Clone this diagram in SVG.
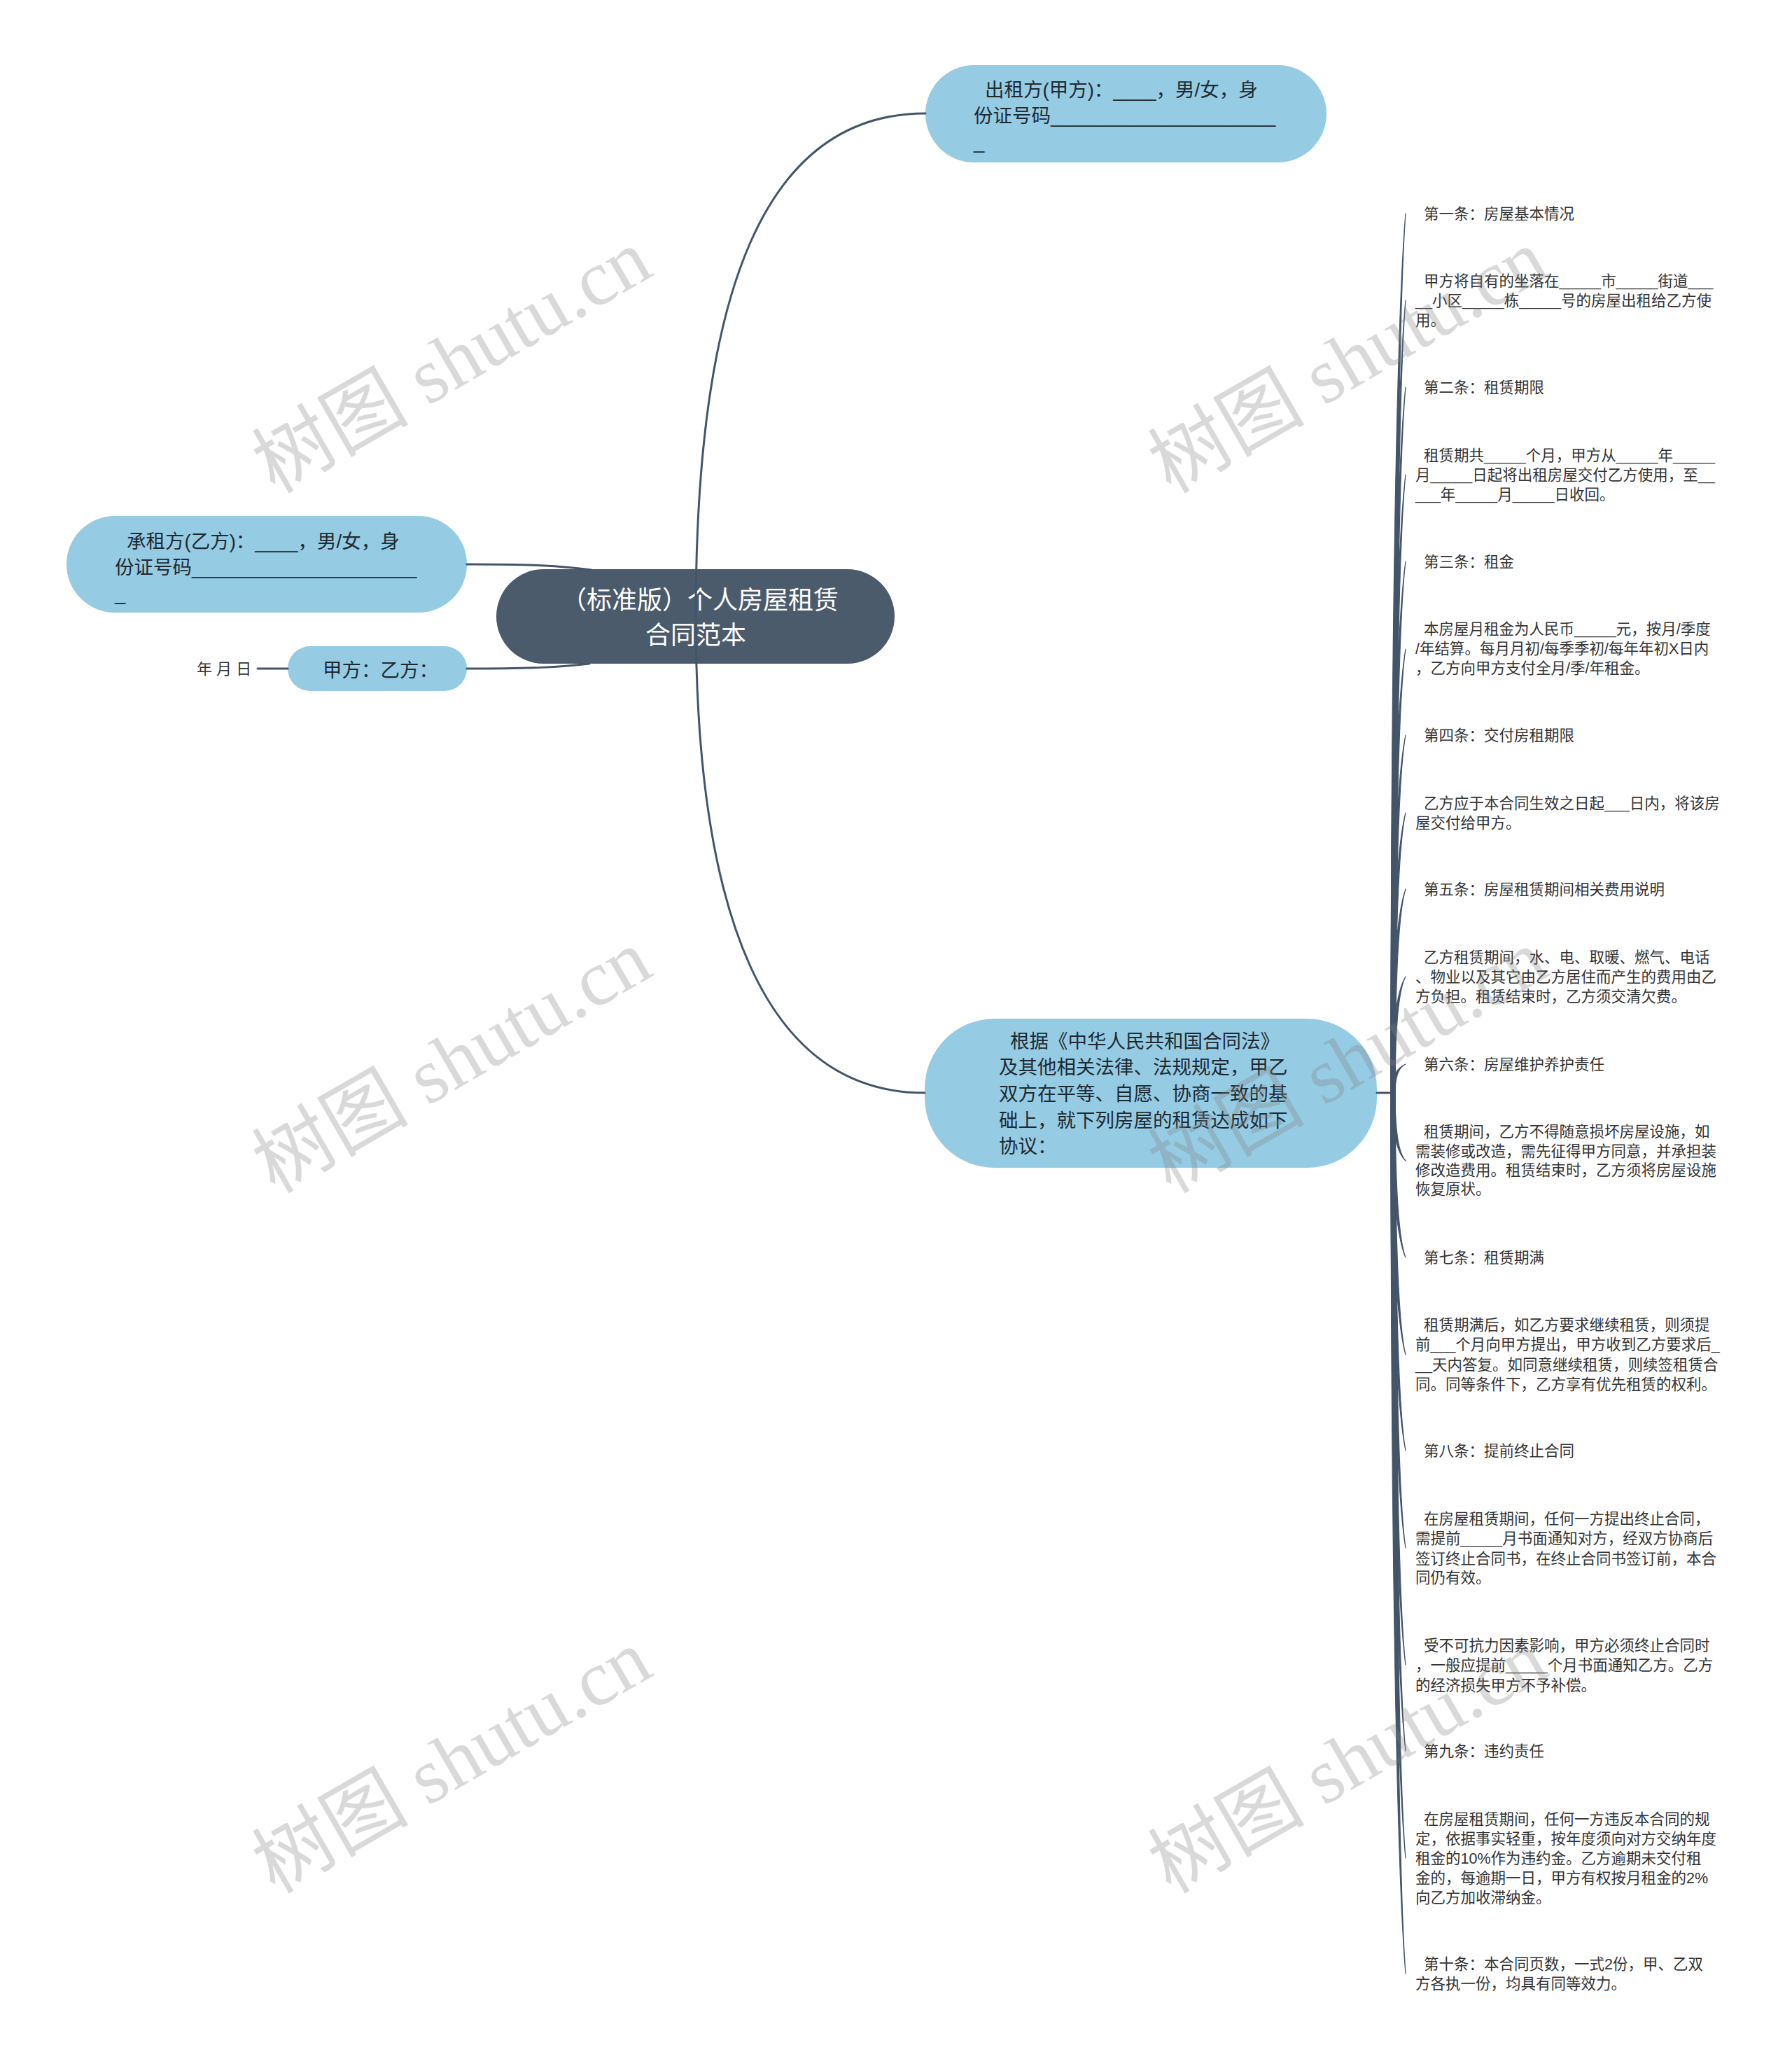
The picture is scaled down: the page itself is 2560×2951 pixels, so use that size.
<svg xmlns="http://www.w3.org/2000/svg" width="2560" height="2951" viewBox="0 0 2560 2951">
<style>
.ln{fill:none;stroke:#44556a;stroke-width:3;stroke-linecap:round}
.br{fill:#44556a;stroke:#44556a;stroke-width:1.2;stroke-linejoin:round}
.lt{font-family:"Liberation Sans","Noto Sans CJK SC",sans-serif;font-size:21.5px;fill:#333333}
.nt{font-family:"Liberation Sans","Noto Sans CJK SC",sans-serif;font-size:27.5px;fill:#1e2a33}
.ct{font-family:"Liberation Sans","Noto Sans CJK SC",sans-serif;font-size:36px;fill:#ffffff}
.sub{fill:#95cbe3}
.wm{font-family:"Liberation Serif","Noto Sans CJK SC",serif;font-size:112px;fill:#808080;fill-opacity:0.3}
</style>
<rect width="2560" height="2951" fill="#ffffff"/>

<g id="node-center">
<rect x="709" y="813" width="569" height="135" rx="67.5" fill="#4b5b6c"/>
<text class="ct" x="1000" y="870" text-anchor="middle">（标准版）个人房屋租赁</text>
<text class="ct" x="994" y="920" text-anchor="middle">合同范本</text>
</g>

<g id="node-lessor">
<rect class="sub" x="1322" y="93" width="573" height="139" rx="69.5"/>
<text class="nt" x="1407" y="138">出租方(甲方)：____，男/女，身</text>
<text class="nt" x="1391" y="175">份证号码_____________________</text>
<text class="nt" x="1391" y="212">_</text>
</g>

<g id="node-lessee">
<rect class="sub" x="95" y="737" width="572" height="138" rx="69"/>
<text class="nt" x="181" y="783">承租方(乙方)：____，男/女，身</text>
<text class="nt" x="164" y="820">份证号码_____________________</text>
<text class="nt" x="164" y="857">_</text>
</g>

<g id="node-sign">
<rect class="sub" x="411" y="923" width="256" height="64" rx="32"/>
<text class="nt" x="461" y="967">甲方：乙方：</text>
</g>

<g id="node-date">
<text class="lt" x="281" y="963" style="font-size:22px">年 月 日</text>
</g>

<g id="node-basis">
<rect class="sub" x="1321" y="1455" width="646" height="213" rx="100"/>
<text class="nt" x="1443" y="1497">根据《中华人民共和国合同法》</text>
<text class="nt" x="1427" y="1534">及其他相关法律、法规规定，甲乙</text>
<text class="nt" x="1427" y="1572">双方在平等、自愿、协商一致的基</text>
<text class="nt" x="1427" y="1610">础上，就下列房屋的租赁达成如下</text>
<text class="nt" x="1427" y="1647">协议：</text>
</g>

<g id="leaf-01"><text class="lt" x="2034" y="312.5">第一条：房屋基本情况</text></g>
<g id="leaf-02">
<text class="lt" x="2034" y="409">甲方将自有的坐落在_____市_____街道___</text>
<text class="lt" x="2022" y="437">__小区_____栋_____号的房屋出租给乙方使</text>
<text class="lt" x="2022" y="465">用。</text>
</g>
<g id="leaf-03"><text class="lt" x="2034" y="560.5">第二条：租赁期限</text></g>
<g id="leaf-04">
<text class="lt" x="2034" y="657.5">租赁期共_____个月，甲方从_____年_____</text>
<text class="lt" x="2022" y="685.5">月_____日起将出租房屋交付乙方使用，至__</text>
<text class="lt" x="2022" y="713.5">___年_____月_____日收回。</text>
</g>
<g id="leaf-05"><text class="lt" x="2034" y="809.5">第三条：租金</text></g>
<g id="leaf-06">
<text class="lt" x="2034" y="905.5">本房屋月租金为人民币_____元，按月/季度</text>
<text class="lt" x="2022" y="933.5">/年结算。每月月初/每季季初/每年年初X日内</text>
<text class="lt" x="2022" y="962">，乙方向甲方支付全月/季/年租金。</text>
</g>
<g id="leaf-07"><text class="lt" x="2034" y="1057.5">第四条：交付房租期限</text></g>
<g id="leaf-08">
<text class="lt" x="2034" y="1154.5">乙方应于本合同生效之日起___日内，将该房</text>
<text class="lt" x="2022" y="1182.5">屋交付给甲方。</text>
</g>
<g id="leaf-09"><text class="lt" x="2034" y="1277.5">第五条：房屋租赁期间相关费用说明</text></g>
<g id="leaf-10">
<text class="lt" x="2034" y="1374.5">乙方租赁期间，水、电、取暖、燃气、电话</text>
<text class="lt" x="2022" y="1402.5">、物业以及其它由乙方居住而产生的费用由乙</text>
<text class="lt" x="2022" y="1430.5">方负担。租赁结束时，乙方须交清欠费。</text>
</g>
<g id="leaf-11"><text class="lt" x="2034" y="1527.5">第六条：房屋维护养护责任</text></g>
<g id="leaf-12">
<text class="lt" x="2034" y="1624">租赁期间，乙方不得随意损坏房屋设施，如</text>
<text class="lt" x="2022" y="1651.5">需装修或改造，需先征得甲方同意，并承担装</text>
<text class="lt" x="2022" y="1679">修改造费用。租赁结束时，乙方须将房屋设施</text>
<text class="lt" x="2022" y="1706">恢复原状。</text>
</g>
<g id="leaf-13"><text class="lt" x="2034" y="1803.5">第七条：租赁期满</text></g>
<g id="leaf-14">
<text class="lt" x="2034" y="1899.5">租赁期满后，如乙方要求继续租赁，则须提</text>
<text class="lt" x="2022" y="1927.5">前___个月向甲方提出，甲方收到乙方要求后_</text>
<text class="lt" x="2022" y="1956.5">__天内答复。如同意继续租赁，则续签租赁合</text>
<text class="lt" x="2022" y="1984.5">同。同等条件下，乙方享有优先租赁的权利。</text>
</g>
<g id="leaf-15"><text class="lt" x="2034" y="2079.5">第八条：提前终止合同</text></g>
<g id="leaf-16">
<text class="lt" x="2034" y="2176.5">在房屋租赁期间，任何一方提出终止合同，</text>
<text class="lt" x="2022" y="2204.5">需提前_____月书面通知对方，经双方协商后</text>
<text class="lt" x="2022" y="2233.5">签订终止合同书，在终止合同书签订前，本合</text>
<text class="lt" x="2022" y="2260.5">同仍有效。</text>
</g>
<g id="leaf-17">
<text class="lt" x="2034" y="2357.5">受不可抗力因素影响，甲方必须终止合同时</text>
<text class="lt" x="2022" y="2385.5">，一般应提前_____个月书面通知乙方。乙方</text>
<text class="lt" x="2022" y="2414.5">的经济损失甲方不予补偿。</text>
</g>
<g id="leaf-18"><text class="lt" x="2034" y="2508.5">第九条：违约责任</text></g>
<g id="leaf-19">
<text class="lt" x="2034" y="2605.5">在房屋租赁期间，任何一方违反本合同的规</text>
<text class="lt" x="2022" y="2633.5">定，依据事实轻重，按年度须向对方交纳年度</text>
<text class="lt" x="2022" y="2661.5">租金的10%作为违约金。乙方逾期未交付租</text>
<text class="lt" x="2022" y="2689.5">金的，每逾期一日，甲方有权按月租金的2%</text>
<text class="lt" x="2022" y="2717.5">向乙方加收滞纳金。</text>
</g>
<g id="leaf-20">
<text class="lt" x="2034" y="2812.5">第十条：本合同页数，一式2份，甲、乙双</text>
<text class="lt" x="2022" y="2840.5">方各执一份，均具有同等效力。</text>
</g>

<g id="connectors">
<path class="ln" d="M994 880 C994 420 1090 162 1322 162"/>
<path class="ln" d="M994 880 C994 1300 1090 1561 1321 1561"/>
<path class="ln" d="M667 806 C760 806 800 808 845 814"/>
<path class="ln" d="M667 955 C760 955 800 953 842 948"/>
<path class="ln" d="M368 955 L411 955"/>
<path class="ln" d="M1967 1561 L1990 1561"/>
<path class="br" d="M1987 1561 C1987 933 1995 455.7 2008 305 C1997 455.7 1993 933 1993 1561 Z"/>
<path class="br" d="M1987 1561 C1987 995 1995 564.8 2008 429 C1997 564.8 1993 995 1993 1561 Z"/>
<path class="br" d="M1987 1561 C1987 1057 1995 674 2008 553 C1997 674 1993 1057 1993 1561 Z"/>
<path class="br" d="M1987 1561 C1987 1119.5 1995 784 2008 678 C1997 784 1993 1119.5 1993 1561 Z"/>
<path class="br" d="M1987 1561 C1987 1181.5 1995 893 2008 802 C1997 893 1993 1181.5 1993 1561 Z"/>
<path class="br" d="M1987 1561 C1987 1244 1995 1003 2008 927 C1997 1003 1993 1244 1993 1561 Z"/>
<path class="br" d="M1987 1561 C1987 1305.5 1995 1111.3 2008 1050 C1997 1111.3 1993 1305.5 1993 1561 Z"/>
<path class="br" d="M1987 1561 C1987 1361 1995 1209 2008 1161 C1997 1209 1993 1361 1993 1561 Z"/>
<path class="br" d="M1987 1561 C1987 1415.5 1995 1305 2008 1270 C1997 1305 1993 1415.5 1993 1561 Z"/>
<path class="br" d="M1987 1561 C1987 1478 1995 1415 2008 1395 C1997 1415 1993 1478 1993 1561 Z"/>
<path class="br" d="M1987 1561 C1987 1540.5 1995 1525 2008 1520 C1997 1525 1993 1540.5 1993 1561 Z"/>
<path class="br" d="M1987 1561 C1987 1609.5 1995 1646.4 2008 1658 C1997 1646.4 1993 1609.5 1993 1561 Z"/>
<path class="br" d="M1987 1561 C1987 1678.5 1995 1767.8 2008 1796 C1997 1767.8 1993 1678.5 1993 1561 Z"/>
<path class="br" d="M1987 1561 C1987 1748 1995 1890 2008 1935 C1997 1890 1993 1748 1993 1561 Z"/>
<path class="br" d="M1987 1561 C1987 1816.5 1995 2010.7 2008 2072 C1997 2010.7 1993 1816.5 1993 1561 Z"/>
<path class="br" d="M1987 1561 C1987 1886 1995 2133 2008 2211 C1997 2133 1993 1886 1993 1561 Z"/>
<path class="br" d="M1987 1561 C1987 1969.5 1995 2280 2008 2378 C1997 2280 1993 1969.5 1993 1561 Z"/>
<path class="br" d="M1987 1561 C1987 2031 1995 2388 2008 2501 C1997 2388 1993 2031 1993 1561 Z"/>
<path class="br" d="M1987 1561 C1987 2107.5 1995 2523 2008 2654 C1997 2523 1993 2107.5 1993 1561 Z"/>
<path class="br" d="M1987 1561 C1987 2190 1995 2668 2008 2819 C1997 2668 1993 2190 1993 1561 Z"/>
</g>

<g id="watermarks">
<text class="wm" transform="translate(645 515) rotate(-30)" x="0" y="39" text-anchor="middle">树图 shutu.cn</text>
<text class="wm" transform="translate(1925 515) rotate(-30)" x="0" y="39" text-anchor="middle">树图 shutu.cn</text>
<text class="wm" transform="translate(645 1515) rotate(-30)" x="0" y="39" text-anchor="middle">树图 shutu.cn</text>
<text class="wm" transform="translate(1925 1515) rotate(-30)" x="0" y="39" text-anchor="middle">树图 shutu.cn</text>
<text class="wm" transform="translate(645 2515) rotate(-30)" x="0" y="39" text-anchor="middle">树图 shutu.cn</text>
<text class="wm" transform="translate(1925 2515) rotate(-30)" x="0" y="39" text-anchor="middle">树图 shutu.cn</text>
</g>
</svg>
